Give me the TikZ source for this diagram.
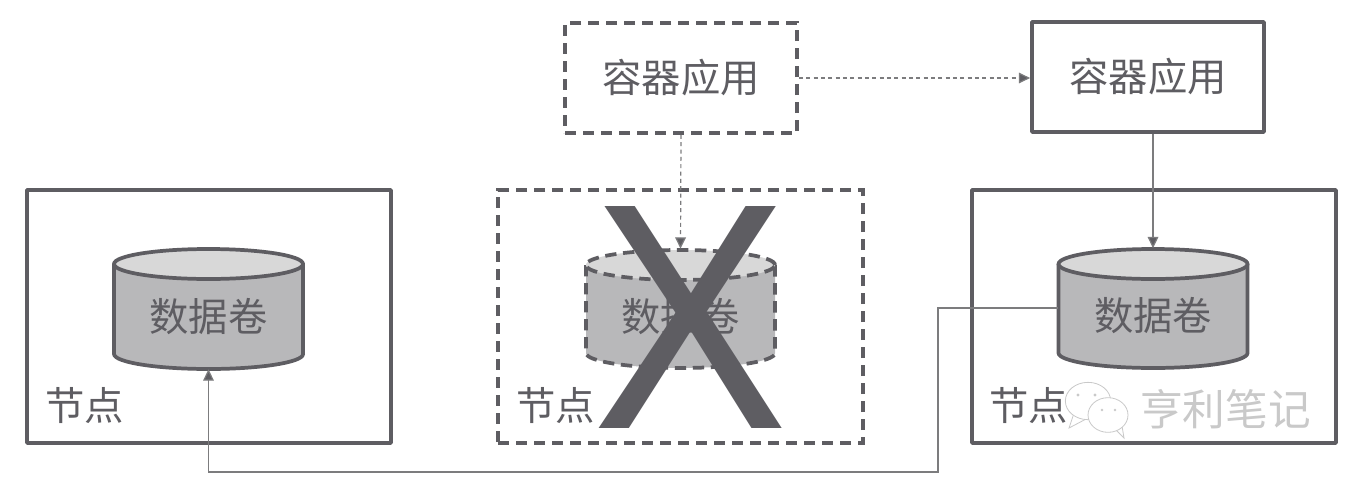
\documentclass[tikz,border=0pt]{standalone}
\usepackage{fontspec}
\setmainfont{Liberation Sans}
\newfontfamily\cjk{Noto Sans CJK SC}
\usetikzlibrary{arrows.meta}
\definecolor{ink}{HTML}{5E5D62}
\definecolor{wire}{HTML}{7C7C7E}
\definecolor{drumside}{HTML}{B8B8BA}
\definecolor{drumtop}{HTML}{D8D8D8}
\definecolor{wmgray}{HTML}{C9C9C9}
\tikzset{
  box/.style={draw=ink,fill=white,minimum width=#1,inner sep=0pt},
  solidline/.style={draw=ink,line width=2.8pt,line join=round},
  dashline/.style={draw=ink,line width=2.8pt,dash pattern=on 8.5pt off 5pt},
  txt/.style={text=ink,inner sep=0pt,font=\cjk\fontsize{29.5}{31}\selectfont},
  wirearrow/.style={draw=wire,line width=0.9pt,-{Triangle[length=8.5pt,width=8pt,fill=ink]}},
  wiredash/.style={wirearrow,dash pattern=on 3pt off 2.5pt},
}
\newcommand{\drum}[5]{% cx, ytop, ybot, style, name
  \path[fill=drumside] (#1-94.5,#2) -- (#1-94.5,#3) arc[start angle=180,end angle=360,x radius=70.9pt,y radius=11.25pt] -- (#1+94.5,#2) -- cycle;
  \path[#4] (#1-94.5,#2) -- (#1-94.5,#3) arc[start angle=180,end angle=360,x radius=70.9pt,y radius=11.25pt] -- (#1+94.5,#2);
  \path[#4,fill=drumtop] (#1,#2) ellipse[x radius=70.9pt,y radius=11.25pt];
  \node[txt,minimum width=142pt,minimum height=90pt] (#5) at (#1,{(#2+#3)/2}) {\raisebox{-6.5pt}[24pt][4pt]{数据卷}};
}
\begin{document}
\begin{tikzpicture}[x=0.75pt,y=-0.75pt]
\useasboundingbox (0,0) rectangle (1362,482);
% node boxes
\node[box=273pt,minimum height=189.75pt,solidline] (nodeA) at (209,316.5) {};
\node[box=273.75pt,minimum height=189.75pt,dashline] (nodeB) at (680.5,316.5) {};
\node[box=273pt,minimum height=189.75pt,solidline] (nodeC) at (1154,316.5) {};
\node[box=174pt,minimum height=82.5pt,dashline] (appB) at (681,78) {};
\node[box=174pt,minimum height=82.5pt,solidline] (appC) at (1148,77) {};
\node[txt] at (appB.center) {容器应用};
\node[txt] at (appC.center) {容器应用};
% volumes
\drum{208.5}{264}{354}{solidline}{volA}
\drum{680.5}{265}{353}{dashline}{volB}
\drum{1153}{264}{353}{solidline}{volC}
% node labels
\node[txt,anchor=west] (txtA) at (45,406) {节点};
\node[txt,anchor=west] (txtB) at (516,406) {节点};
\node[txt,anchor=west] (txtC) at (989,406) {节点};
% connectors
\coordinate (bendA) at (938,472);
\coordinate (tapC) at (938,308);
\draw[wirearrow] (volC.west |- tapC) -- (tapC) -- (bendA) -- (volA.south |- bendA) -- (volA.south);
\draw[wiredash] (appB.east) -- (appC.west |- appB.east);
\draw[wiredash] (appB.south) -- (volB.north);
\draw[wirearrow] (volC.north |- appC.south) -- (volC.north);
% the cross
\node[text=ink,inner sep=0pt,anchor=base,font=\fontsize{242}{242}\selectfont,xscale=0.91] (cross) at (690,428) {X};
% watermark
\begin{scope}[draw=wmgray,line width=0.6pt,fill=white]
\path[draw,fill] (1074,413) -- (1069,428) -- (1088,418) -- cycle;
\path[draw,fill] (1088,401) ellipse[x radius=17pt,y radius=14pt];
\path[draw,fill] (1116,430) -- (1124,438) -- (1122,426) -- cycle;
\path[draw,fill] (1108,415) ellipse[x radius=15pt,y radius=13pt];
\fill[wmgray] (1078,395) circle[radius=1.2pt] (1095,395) circle[radius=1.2pt] (1102,410) circle[radius=1pt] (1115,410) circle[radius=1pt];
\end{scope}
\node[text=wmgray,inner sep=0pt,anchor=west,font=\cjk\fontsize{32}{34}\selectfont] (brand) at (1140,409) {亨利笔记};
\end{tikzpicture}
\end{document}
